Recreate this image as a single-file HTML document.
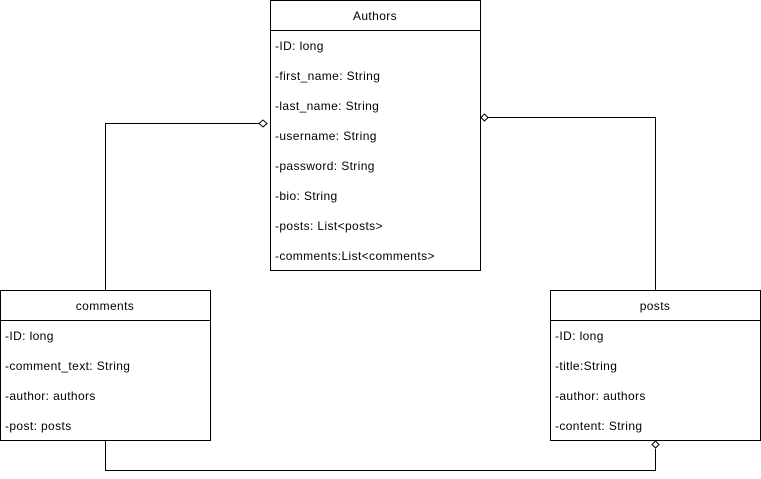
<!DOCTYPE html>
<html><head><meta charset="utf-8"><style>
body{margin:0;background:#fff;}
svg{display:block;font-family:"Liberation Sans",Arial,sans-serif;font-size:12px;letter-spacing:0.38px;}
</style></head><body>
<svg width="761" height="479" xmlns="http://www.w3.org/2000/svg">
<g fill="none" stroke="#000" stroke-width="1">
<rect x="270.5" y="0.5" width="210" height="270"/>
<line x1="270.5" y1="30.5" x2="480.5" y2="30.5"/>
<rect x="0.5" y="290.5" width="210" height="150"/>
<line x1="0.5" y1="320.5" x2="210.5" y2="320.5"/>
<rect x="550.5" y="290.5" width="210" height="150"/>
<line x1="550.5" y1="320.5" x2="760.5" y2="320.5"/>
<polyline points="105.5,290 105.5,123.5 259,123.5"/>
<polyline points="655.5,290 655.5,117.5 488,117.5"/>
<polyline points="105.5,441 105.5,470.5 655.5,470.5 655.5,449"/>
<polygon fill="#fff" points="259,123.5 263,120 267,123.5 263,127"/>
<polygon fill="#fff" points="481,117.5 484.5,114 488,117.5 484.5,121"/>
<polygon fill="#fff" points="655.5,441 659,444.5 655.5,448 652,444.5"/>
</g>
<g fill="#000">
<text x="375" y="20" text-anchor="middle">Authors</text>
<text x="275" y="50">-ID: long</text>
<text x="275" y="80">-first_name: String</text>
<text x="275" y="110">-last_name: String</text>
<text x="275" y="140">-username: String</text>
<text x="275" y="170">-password: String</text>
<text x="275" y="200">-bio: String</text>
<text x="275" y="230">-posts: List&lt;posts&gt;</text>
<text x="275" y="260">-comments:List&lt;comments&gt;</text>
<text x="105" y="310" text-anchor="middle">comments</text>
<text x="5" y="340">-ID: long</text>
<text x="5" y="370">-comment_text: String</text>
<text x="5" y="400">-author: authors</text>
<text x="5" y="430">-post: posts</text>
<text x="655" y="310" text-anchor="middle">posts</text>
<text x="555" y="340">-ID: long</text>
<text x="555" y="370">-title:String</text>
<text x="555" y="400">-author: authors</text>
<text x="555" y="430">-content: String</text>
</g>
</svg>
</body></html>
